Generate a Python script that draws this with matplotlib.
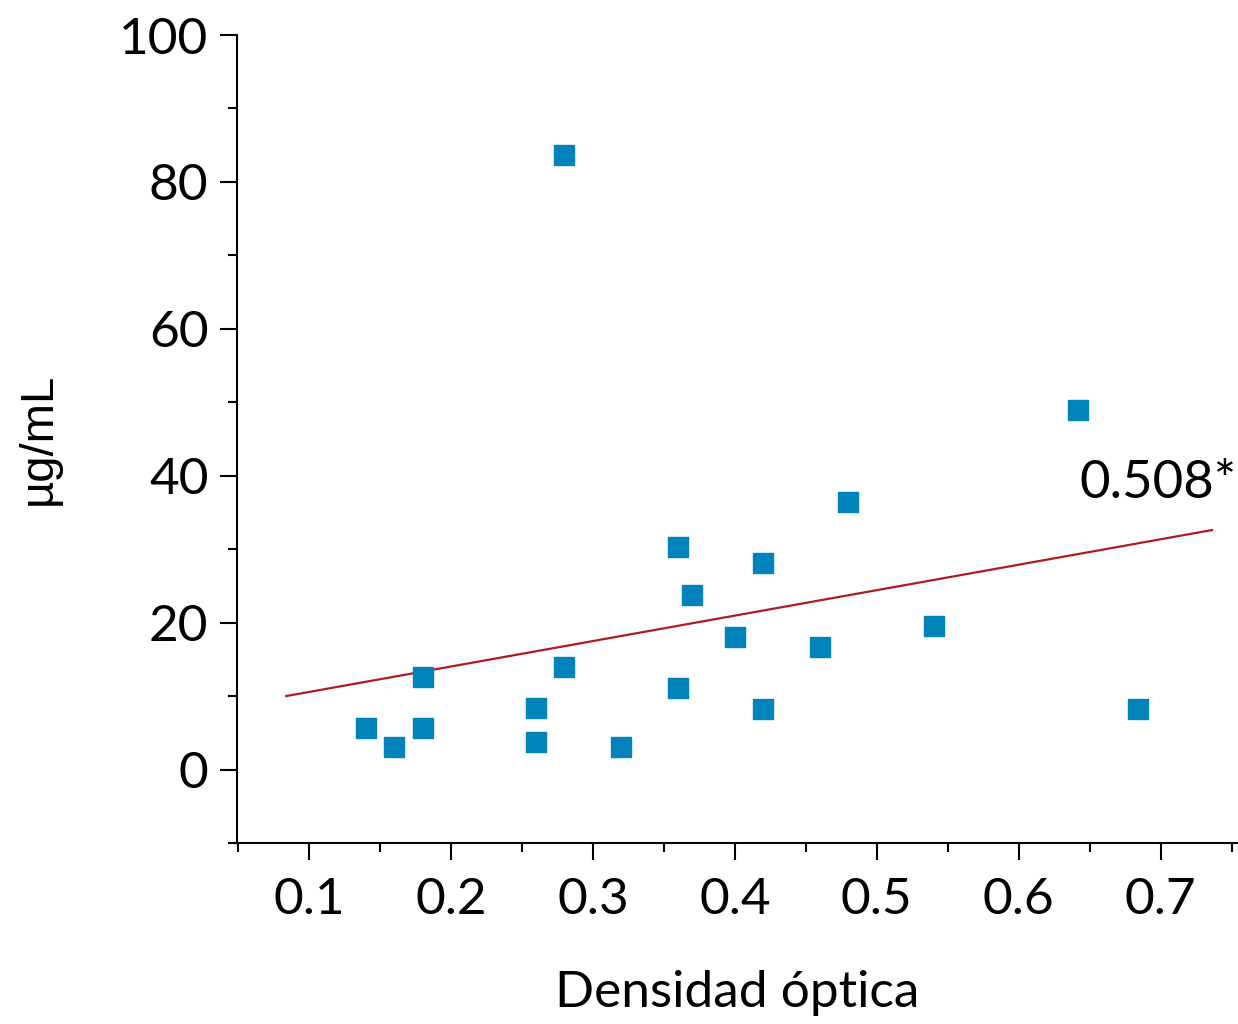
import matplotlib
matplotlib.use("Agg")
import matplotlib.pyplot as plt
import numpy as np
from matplotlib.ticker import MultipleLocator

# optical density vs concentration
densidad = [0.14, 0.16, 0.18, 0.18, 0.26, 0.26, 0.28, 0.28, 0.32, 0.36,
            0.36, 0.37, 0.40, 0.42, 0.42, 0.46, 0.48, 0.54, 0.642, 0.684]
ug_ml = [5.6, 3.1, 12.6, 5.7, 8.4, 3.7, 14.0, 83.7, 3.1, 30.3,
         11.1, 23.8, 18.1, 28.1, 8.3, 16.7, 36.4, 19.6, 49.0, 8.3]

# regression line end points
line_x = [0.084, 0.736]
line_y = [10.0, 32.6]
corr_label = "0.508*"

plt.rcParams['font.family'] = ['Lato', 'DejaVu Sans']

fig = plt.figure(figsize=(12.38, 10.24), dpi=100)
ax = fig.add_axes([0.1914, 0.1768, 0.8076, 0.789])

ax.plot(line_x, line_y, color="#AE1C20", linewidth=1.6, zorder=2)
ax.plot(densidad, ug_ml, linestyle="none", marker="s", markersize=14.5,
        color="#0083BA", zorder=3)
ax.text(0.753, 37.0, corr_label, fontsize=38, ha="right", va="baseline")

ax.set_xlim(0.0493, 0.7535)
ax.set_ylim(-10, 100)
ax.xaxis.set_minor_locator(MultipleLocator(0.05))
ax.yaxis.set_minor_locator(MultipleLocator(10))
ax.set_xticks([0.1, 0.2, 0.3, 0.4, 0.5, 0.6, 0.7])
ax.set_xticklabels(["0.1", "0.2", "0.3", "0.4", "0.5", "0.6", "0.7"])
ax.set_yticks([0, 20, 40, 60, 80, 100])

for s in ["top", "right"]:
    ax.spines[s].set_visible(False)
for s in ["left", "bottom"]:
    ax.spines[s].set_linewidth(1.5)

ax.tick_params(which="major", length=12.5, width=1.5, labelsize=37, pad=8)
ax.tick_params(axis="x", which="major", pad=12)
ax.tick_params(which="minor", length=6.5, width=1.5)

ax.set_xlabel("Densidad óptica", fontsize=37, labelpad=34)
ax.set_ylabel("µg/mL", fontsize=34, labelpad=42,
              family=["Liberation Sans", "DejaVu Sans"])

fig.savefig("out.png", dpi=100)
